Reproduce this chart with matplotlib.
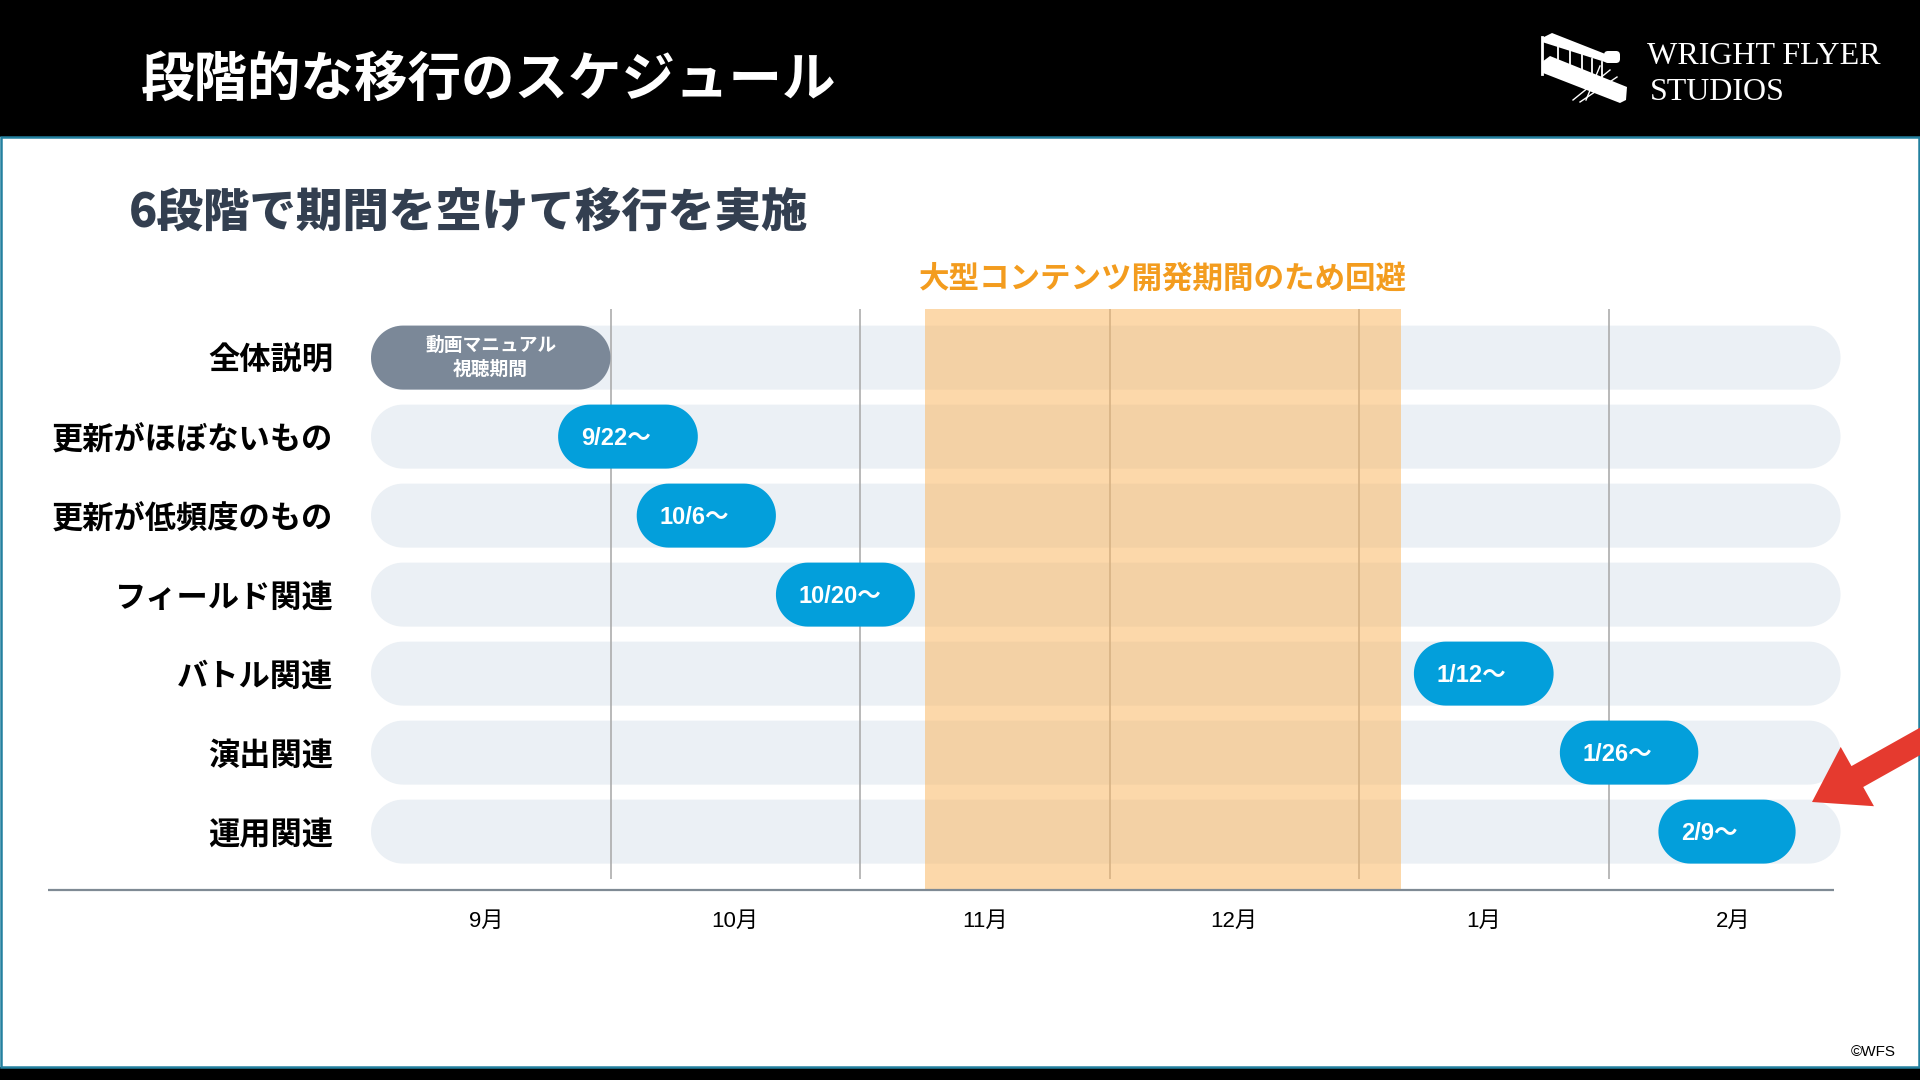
import numpy as np
import matplotlib.pyplot as plt
from matplotlib.patches import FancyBboxPatch, Rectangle, Polygon, FancyArrow

plt.rcParams['font.family'] = ['Noto Sans CJK JP', 'DejaVu Sans']
LATIN = ['Liberation Sans', 'Noto Sans CJK JP']

# ---- data ----
rows = ['全体説明', '更新がほぼないもの', '更新が低頻度のもの', 'フィールド関連',
        'バトル関連', '演出関連', '運用関連']
months = ['9月', '10月', '11月', '12月', '1月', '2月']

# x in months from 1 Sep
intro_label = '動画マニュアル\n視聴期間'
intro_start, intro_end = 0.04, 1.0
track_start, track_end = 0.04, 5.93
avoid_label = '大型コンテンツ開発期間のため回避'
avoid_start, avoid_end = 2.26, 4.17

phase_rows = [1, 2, 3, 4, 5, 6]
phase_labels = ['9/22～', '10/6～', '10/20～', '1/12～', '1/26～', '2/9～']
phase_start = [0.79, 1.105, 1.663, 4.22, 4.805, 5.20]
phase_end = [1.35, 1.663, 2.22, 4.78, 5.36, 5.75]

# ---- colours ----
BLUE = '#039FDB'
SLATE = '#7B8898'
TRACK = '#EBF0F5'
ORANGE_TXT = '#F39C1E'
BAND = '#FBB864'
FRAME = '#23809F'

W, H = 1920, 1080
fig = plt.figure(figsize=(W / 100, H / 100), dpi=100)

# background / slide furniture in pixel coords
bg = fig.add_axes([0, 0, 1, 1], label='bg', zorder=0)
bg.set_xlim(0, W)
bg.set_ylim(H, 0)
bg.axis('off')
bg.add_patch(Rectangle((0, 0), W, 137, fc='black', ec='none'))
bg.add_patch(Rectangle((0, 1067), W, 13, fc='black', ec='none'))
bg.add_patch(Rectangle((1, 137), W - 2, 930, fc='none', ec=FRAME, lw=1.8))

bg.text(141, 80, '段階的な移行のスケジュール', color='white', fontsize=38.5,
        fontweight='bold', ha='left', va='center')
bg.text(129, 213, '6段階で期間を空けて移行を実施', color='#333F50', fontsize=33.5,
        fontweight='heavy', ha='left', va='center')

# logo: rough biplane + wordmark
bg.add_patch(Polygon([(1542, 62), (1550, 56), (1627, 87), (1626, 100), (1620, 103), (1543, 73)],
                     fc='white', ec='none'))
bg.add_patch(Polygon([(1542, 38), (1552, 33), (1613, 57), (1605, 62), (1542, 42)],
                     fc='white', ec='none'))
bg.plot([1542, 1542], [37, 74], color='white', lw=2)
for sx in [1558, 1570, 1582, 1592, 1602]:
    top = 40 + (sx - 1542) * 0.37
    bot = 56 + (sx - 1550) * 0.40
    bg.plot([sx, sx], [top, bot], color='white', lw=1.3)
bg.add_patch(FancyBboxPatch((1604, 51), 16, 12, boxstyle='round,pad=0,rounding_size=4',
                            fc='white', ec='none'))
bg.plot([1573, 1610], [100, 70], color='white', lw=1)
bg.plot([1580, 1617], [102, 77], color='white', lw=1)
bg.plot([1586, 1600], [100, 66], color='white', lw=1)
bg.text(1647, 57, 'WRIGHT FLYER', color='white', fontsize=23, family='Liberation Serif',
        ha='left', va='center')
bg.text(1650, 93, 'STUDIOS', color='white', fontsize=23, family='Liberation Serif',
        ha='left', va='center')
bg.text(1896, 1052, '©WFS', color='black', fontsize=11, family=LATIN,
        ha='right', va='center')

# ---- chart axes ----
ax_l, ax_r, ax_t, ax_b = 361, 1858, 300, 890
row0_px, pitch = 357.6, 79.0
ax = fig.add_axes([ax_l / W, 1 - ax_b / H, (ax_r - ax_l) / W, (ax_b - ax_t) / H],
                  label='chart', zorder=1)
ax.patch.set_alpha(0)
y_top = (ax_t - row0_px) / pitch
y_bot = (ax_b - row0_px) / pitch
ax.set_xlim(0, len(months))
ax.set_ylim(y_bot, y_top)

px_x = (ax_r - ax_l) / len(months)
bar_h = 64 / pitch
radius = 32 / px_x  # half the bar height, in month units


def pill(x0, x1, y, color, z):
    # capsule: straight body with semicircular ends (circular on screen)
    t = np.linspace(-np.pi / 2, np.pi / 2, 40)
    right = np.column_stack([x1 - radius + radius * np.cos(t), y + bar_h / 2 * np.sin(t)])
    left = np.column_stack([x0 + radius - radius * np.cos(t[::-1]), y + bar_h / 2 * np.sin(t[::-1])])
    ax.add_patch(Polygon(np.vstack([right, left]), closed=True, fc=color, ec='none', zorder=z))


for i in range(len(rows)):
    pill(track_start, track_end, i, TRACK, 1)

grid_top = (309 - row0_px) / pitch
grid_bot = (879 - row0_px) / pitch
ax.vlines(np.arange(1, len(months)), grid_top, grid_bot, color='#A6A6A6', lw=1.1, zorder=2)

ax.add_patch(Rectangle((avoid_start, grid_top), avoid_end - avoid_start, y_bot - grid_top,
                       fc=BAND, ec='none', alpha=0.55, zorder=3))
ax.text((avoid_start + avoid_end) / 2, (279 - row0_px) / pitch, avoid_label,
        color=ORANGE_TXT, fontsize=22, fontweight='bold', ha='center', va='center',
        clip_on=False)

pill(intro_start, intro_end, 0, SLATE, 4)
ax.text((intro_start + intro_end) / 2, 0, intro_label, color='white', fontsize=13.5,
        fontweight='bold', ha='center', va='center', linespacing=1.3, zorder=5)

for r, lab, s, e in zip(phase_rows, phase_labels, phase_start, phase_end):
    pill(s, e, r, BLUE, 4)
    ax.text(s + 23 / px_x, r + 0.02, lab, color='white', fontsize=17, fontweight='bold',
            family=LATIN, ha='left', va='center', zorder=5)

ax.plot([(48 - ax_l) / px_x, (1834 - ax_l) / px_x], [y_bot, y_bot], color='#7F8A94',
        lw=1.6, clip_on=False, zorder=5, solid_capstyle='butt')

ax.set_yticks(range(len(rows)))
ax.set_yticklabels(rows, fontsize=22.5, fontweight='bold', color='black')
ax.set_xticks(np.arange(len(months)) + 0.5)
ax.set_xticklabels(months, fontsize=16, family=LATIN, color='black')
ax.tick_params(axis='y', length=0, pad=20)
ax.tick_params(axis='x', length=0, pad=15)
for sp in ax.spines.values():
    sp.set_visible(False)

# ---- red arrow on top ----
fg = fig.add_axes([0, 0, 1, 1], label='fg', zorder=2)
fg.set_xlim(0, W)
fg.set_ylim(H, 0)
fg.axis('off')
fg.patch.set_alpha(0)
fg.add_patch(FancyArrow(1935, 733, -123, 69, width=24, head_width=68, head_length=52,
                        length_includes_head=True, fc='#E53A2F', ec='none'))

fig.savefig('out.png', dpi=100)
